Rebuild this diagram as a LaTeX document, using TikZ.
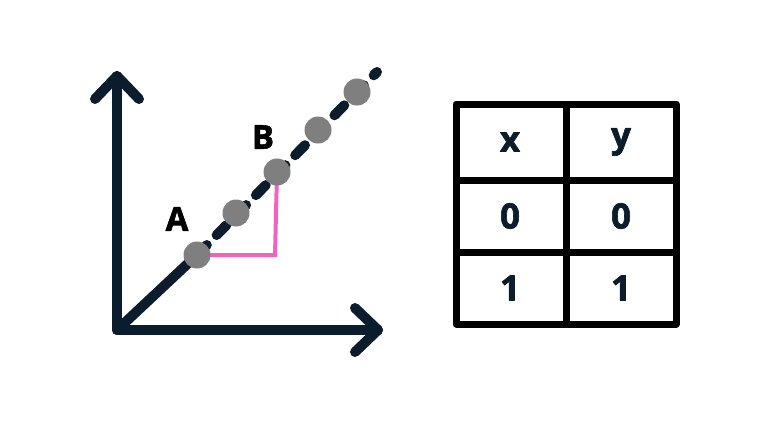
\documentclass[tikz,border=0pt]{standalone}
\usepackage{fontspec}
\setmainfont{Open Sans}
\newfontfamily\heavyfont[BoldFont={Open Sans Bold},BoldFeatures={FakeBold=1.8}]{Open Sans}
\usetikzlibrary{positioning}
\definecolor{navy}{HTML}{0B1D2C}
\definecolor{dotgray}{HTML}{7F7F7F}
\definecolor{pink}{HTML}{F262C0}
\begin{document}
\begin{tikzpicture}[x=1pt,y=-1pt,line cap=round,line join=round,
 axis/.style={navy,line width=10pt},
 grid/.style={black,line width=7pt,line cap=rect},
 pt/.style={circle,fill=dotgray,minimum size=27pt,inner sep=0pt},
 lab/.style={font=\heavyfont\fontsize{33}{33}\selectfont\bfseries,inner sep=0pt},
 cell/.style={font=\heavyfont\fontsize{35}{35}\selectfont\bfseries,text=navy,inner sep=0pt}]
 \useasboundingbox (0,0) rectangle (768,432);
 % axes
 \coordinate (o) at (117,330);
 \draw[axis] (o) -- (117,76);
 \draw[axis] (95,99) -- (117,76) -- (139,99);
 \draw[axis] (o) -- (378,330);
 \draw[axis] (355,308) -- (378,330) -- (355,352);
 % line through points
 \coordinate (A) at (197,255);
 \coordinate (B) at (277,172);
 \coordinate (e) at (377,72);
 \draw[axis,line cap=butt] (o) -- (A);
 \draw[axis,line cap=round,dash pattern=on 14pt off 14pt] (A) -- (e);
 \draw[pink,line width=4pt,line cap=butt,line join=miter] (A) -- (275,255) -- (B);
 \foreach \p/\n in {197/255,236/213,277/172,318/130,357/92}
  \node[pt] at (\p,\n) {};
 \node[lab] (la) at (177,219) {A};
 \node[lab] (lb) at (263,137) {B};
 % table
 \draw[grid] (456,104) rectangle (676,324);
 \draw[grid] (566,104) -- (566,324);
 \draw[grid] (456,180) -- (676,180);
 \draw[grid] (456,252) -- (676,252);
 \node[cell] (hx) at (510,142) {x};
 \node[cell] (hy) at (621,142) {y};
 \node[cell] (x0) at (510,216) {0};
 \node[cell] (y0) at (621,216) {0};
 \node[cell] (x1) at (510,288) {1};
 \node[cell] (y1) at (621,288) {1};
\end{tikzpicture}
\end{document}
